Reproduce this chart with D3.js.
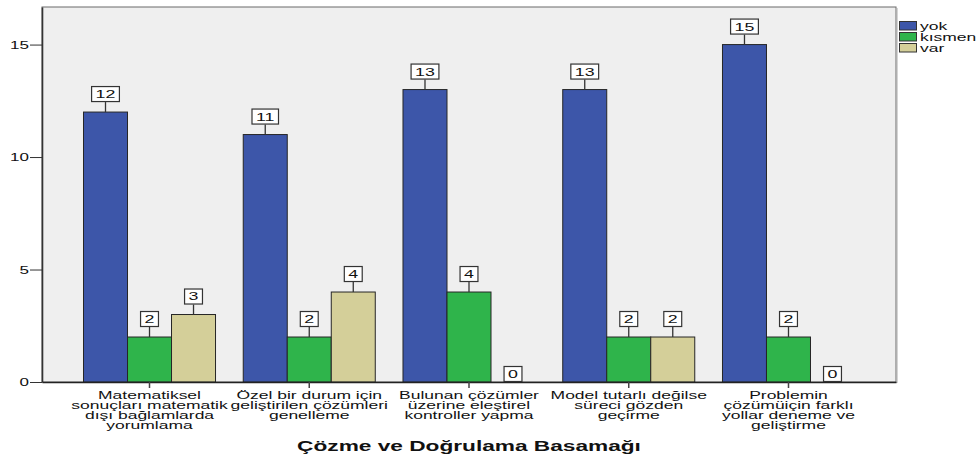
<!DOCTYPE html>
<html>
<head>
<meta charset="utf-8">
<script src="https://cdn.jsdelivr.net/npm/d3@7"></script>
<style>
  html, body { margin: 0; padding: 0; background: #fff; }
  svg { display: block; }
  text { font-family: "Liberation Sans", Arial, sans-serif; fill: #111; }
</style>
</head>
<body>
<svg id="chart" width="977" height="460"></svg>
<script>
// Categories (line breaks mark where each label wraps)
const categories = [
  "Matematiksel\nsonuçları matematik\ndışı bağlamlarda\nyorumlama",
  "Özel bir durum için\ngeliştirilen çözümleri\ngenelleme",
  "Bulunan çözümler\nüzerine eleştirel\nkontroller yapma",
  "Model tutarlı değilse\nsüreci gözden\ngeçirme",
  "Problemin\nçözümüiçin farklı\nyollar deneme ve\ngeliştirme"
];
const seriesNames = ["yok", "kısmen", "var"];
const yokValues = [12, 11, 13, 13, 15];
const kismenValues = [2, 2, 4, 2, 2];
const varValues = [3, 4, 0, 2, 0];
const yTicks = [0, 5, 10, 15];
const axisTitle = "Çözme ve Doğrulama Basamağı";

const seriesValues = [yokValues, kismenValues, varValues];
const colors = ["#3d56a9", "#2fb44b", "#d4cf99"];

// Text is drawn slightly widened horizontally
const SX = 1.62;

const svg = d3.select("#chart");
const plot = { left: 42, right: 896, top: 7, bottom: 382 };

const x0 = d3.scaleBand()
  .domain(categories)
  .range([plot.left, plot.right])
  .paddingInner(0)
  .paddingOuter(0.173);

const x1 = d3.scaleBand()
  .domain(seriesNames)
  .range([0, x0.bandwidth()])
  .paddingInner(0)
  .paddingOuter(0.315);

const y = d3.scaleLinear()
  .domain([0, 16.67])
  .range([plot.bottom, plot.top]);

// Plot background
svg.append("rect")
  .attr("x", plot.left).attr("y", plot.top)
  .attr("width", plot.right - plot.left)
  .attr("height", plot.bottom - plot.top)
  .attr("fill", "#efefef")
  .attr("stroke", "#6a6a6a")
  .attr("stroke-width", 1);
svg.append("line")
  .attr("x1", plot.right + 1).attr("x2", plot.right + 1)
  .attr("y1", plot.top + 1).attr("y2", plot.bottom + 1)
  .attr("stroke", "#aaa").attr("stroke-width", 1);

// Flattened rows for the bars
const rows = [];
categories.forEach((c, i) => {
  seriesNames.forEach((s, j) => {
    rows.push({ cat: c, series: s, j, value: seriesValues[j][i] });
  });
});

// Bars
svg.append("g").selectAll("rect")
  .data(rows.filter(d => d.value > 0))
  .join("rect")
  .attr("x", d => x0(d.cat) + x1(d.series))
  .attr("y", d => y(d.value))
  .attr("width", x1.bandwidth())
  .attr("height", d => y(0) - y(d.value))
  .attr("fill", d => colors[d.j])
  .attr("stroke", "#262626")
  .attr("stroke-width", 1);

// Y axis
const yAxis = svg.append("g")
  .attr("transform", `translate(${plot.left},0)`)
  .call(d3.axisLeft(y).tickValues(yTicks).tickSize(12).tickSizeOuter(0).tickFormat(d3.format("d")));
yAxis.select(".domain").attr("stroke", "#333").attr("stroke-width", 1.6);
yAxis.selectAll(".tick line").attr("stroke", "#333");
yAxis.selectAll(".tick text")
  .attr("x", 0).attr("dy", "0.35em")
  .attr("transform", `translate(-13,0) scale(${SX},1)`)
  .style("font-size", "10.5px")
  .style("font-family", "'Liberation Sans', Arial, sans-serif")
  .attr("fill", "#111");

// X axis (ticks only; labels wrap below)
const xAxis = svg.append("g")
  .attr("transform", `translate(0,${plot.bottom})`)
  .call(d3.axisBottom(x0).tickSize(6).tickSizeOuter(0).tickFormat(""));
xAxis.select(".domain").attr("stroke", "#222").attr("stroke-width", 1.4);
xAxis.selectAll(".tick line").attr("stroke", "#444").attr("stroke-width", 1.5);

const catLabels = svg.append("g").selectAll("g")
  .data(categories)
  .join("g")
  .attr("transform", d => `translate(${x0(d) + x0.bandwidth() / 2},0)`);
catLabels.each(function (d) {
  const g = d3.select(this);
  d.split("\n").forEach((line, k) => {
    g.append("text")
      .attr("text-anchor", "middle")
      .attr("transform", `translate(0,${399 + k * 10}) scale(${SX},1)`)
      .style("font-size", "10.8px")
      .text(line);
  });
});

// Value labels in boxes above each bar
const lbl = svg.append("g").selectAll("g")
  .data(rows)
  .join("g")
  .attr("transform", d => `translate(${x0(d.cat) + x1(d.series) + x1.bandwidth() / 2},0)`);
lbl.each(function (d) {
  const g = d3.select(this);
  const top = y(d.value);
  const gap = d.value > 0 ? 10 : 0;
  const boxBottom = top - gap;
  const boxH = 16;
  if (gap > 0) {
    g.append("line")
      .attr("x1", 0).attr("x2", 0)
      .attr("y1", top).attr("y2", boxBottom)
      .attr("stroke", "#333").attr("stroke-width", 1.3);
  }
  const box = g.append("rect").attr("fill", "#fff").attr("stroke", "#333").attr("stroke-width", 1.2);
  const t = g.append("text")
    .attr("text-anchor", "middle")
    .attr("transform", `translate(0,${boxBottom - boxH / 2}) scale(${SX},1)`)
    .attr("dy", "0.36em")
    .style("font-size", "11px")
    .text(d.value);
  const w = t.node().getComputedTextLength() * SX + 9;
  box.attr("x", -w / 2 + 0.5).attr("y", boxBottom - boxH + 0.5)
    .attr("width", w - 1).attr("height", boxH - 1);
});

// Legend
const legend = svg.append("g").attr("transform", "translate(899,21)");
seriesNames.forEach((s, j) => {
  const row = legend.append("g").attr("transform", `translate(0,${j * 11})`);
  row.append("rect")
    .attr("x", 0.5).attr("y", 0.5).attr("width", 17).attr("height", 8.5)
    .attr("fill", colors[j]).attr("stroke", "#333").attr("stroke-width", 1);
  row.append("text")
    .attr("transform", `translate(21,8.5) scale(${SX},1)`)
    .style("font-size", "10.8px")
    .text(s);
});

// Axis title
svg.append("text")
  .attr("text-anchor", "middle")
  .attr("transform", `translate(${(plot.left + plot.right) / 2},451) scale(${SX},1)`)
  .style("font-size", "14px")
  .style("font-weight", "bold")
  .text(axisTitle);
</script>
</body>
</html>
